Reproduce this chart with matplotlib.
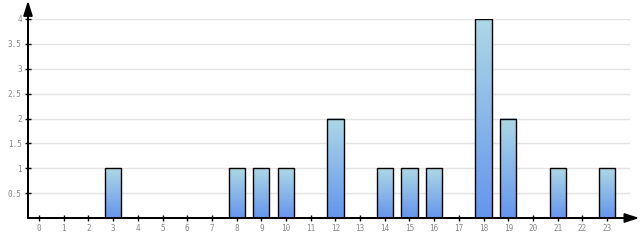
import matplotlib
matplotlib.use("Agg")
import matplotlib.pyplot as plt
import numpy as np

hours = list(range(24))
counts = [0, 0, 0, 1, 0, 0, 0, 0, 1, 1, 1, 0, 2, 0, 1, 1, 1, 0, 4, 2, 0, 1, 0, 1]
y_ticks = [0.5, 1, 1.5, 2, 2.5, 3, 3.5, 4]
y_labels = ["0.5", "1", "1.5", "2", "2.5", "3", "3.5", "4"]

W, H = 640, 240
fig = plt.figure(figsize=(W / 100, H / 100), dpi=100)
left, right, bottom, top = 28, 630, 218, 19
ax = fig.add_axes([left / W, (H - bottom) / H, (right - left) / W, (bottom - top) / H])

for s in ["top", "right"]:
    ax.spines[s].set_visible(False)
for s in ["left", "bottom"]:
    ax.spines[s].set_linewidth(1.2)
    ax.spines[s].set_color("black")

ax.set_yticks(y_ticks)
ax.set_yticklabels(y_labels)
ax.set_xticks(hours)
ax.set_xticklabels([str(h) for h in hours])
ax.tick_params(axis="both", direction="inout", length=5, width=1, color="black",
               labelsize=5.5, labelcolor="#888888", pad=2)
for lab in ax.get_xticklabels() + ax.get_yticklabels():
    lab.set_family("DejaVu Sans Mono")

ax.grid(axis="y", color="#e3e3e3", linewidth=1)
ax.set_axisbelow(True)

# each bar gets its own vertical gradient
grad = np.linspace(0, 1, 256).reshape(-1, 1)
cmap = matplotlib.colors.LinearSegmentedColormap.from_list("g", ["#6495ed", "#add8e6"])
bars = ax.bar(hours, counts, width=0.66, facecolor="none", edgecolor="black", linewidth=1.0, zorder=3)
for b, c in zip(bars, counts):
    if c <= 0:
        b.set_visible(False)
        continue
    x0 = b.get_x()
    ax.imshow(grad, extent=[x0, x0 + b.get_width(), 0, c], origin="lower", cmap=cmap,
              aspect="auto", zorder=2)
ax.set_xlim(-0.45, 23.93)
ax.set_ylim(0, 4)

# axis arrows
fig.patches.append(matplotlib.patches.FancyArrow(left / W, (H - bottom) / H, 0, (bottom - 3) / H,
                   width=0.0001, head_width=0.013, head_length=0.055, length_includes_head=True,
                   color="black", transform=fig.transFigure, figure=fig))
fig.patches.append(matplotlib.patches.FancyArrow(left / W, (H - bottom) / H, (637 - left) / W, 0,
                   width=0.0001, head_width=0.035, head_length=0.02, length_includes_head=True,
                   color="black", transform=fig.transFigure, figure=fig))

fig.savefig("out.png", dpi=100)
